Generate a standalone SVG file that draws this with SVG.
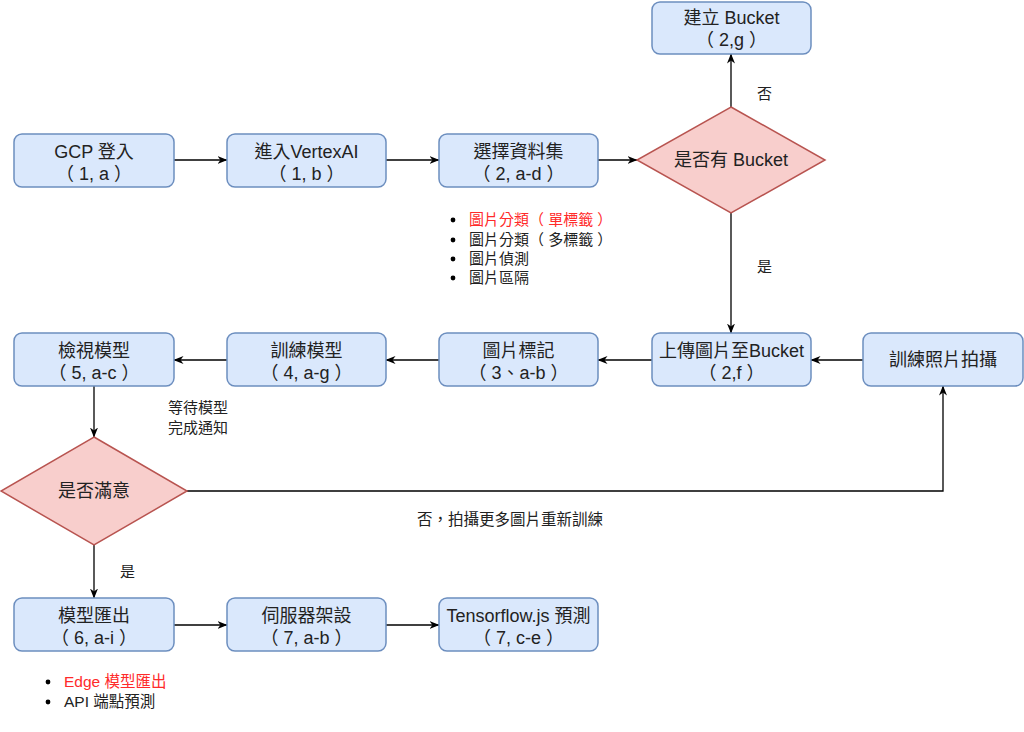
<svg xmlns="http://www.w3.org/2000/svg" width="1024" height="732" viewBox="0 0 1024 732">
<defs>
<marker id="arr" viewBox="0 0 10 8" refX="9.5" refY="4" markerWidth="10" markerHeight="8" markerUnits="userSpaceOnUse" orient="auto">
<path d="M0,0 L10,4 L0,8 L3,4 z" fill="#000"/>
</marker>
<style>
.box{fill:#dae8fc;stroke:#6c8ebf;stroke-width:1.5}
.dia{fill:#f8cecc;stroke:#b85450;stroke-width:1.5}
.t{font-family:"Liberation Sans","Noto Sans CJK TC",sans-serif;font-size:18px;fill:#222;text-anchor:middle}
.s{font-family:"Liberation Sans","Noto Sans CJK TC",sans-serif;font-size:15px;fill:#222}
.l{font-size:15.5px}
.red{fill:#ff2a2a}
.c{fill:none;stroke:#000;stroke-width:1.3;marker-end:url(#arr)}
</style>
</defs>
<rect width="1024" height="732" fill="#fff"/>
<g id="connectors">
<path class="c" d="M174,160 H227"/>
<path class="c" d="M386,160 H439"/>
<path class="c" d="M598,160 H637"/>
<path class="c" d="M731,107 V54"/>
<path class="c" d="M731,213 V333"/>
<path class="c" d="M863,360 H811"/>
<path class="c" d="M652,360 H598"/>
<path class="c" d="M439,360 H386"/>
<path class="c" d="M227,360 H174"/>
<path class="c" d="M94,386 V437"/>
<path class="c" d="M187,491 H943 V386"/>
<path class="c" d="M94,545 V598"/>
<path class="c" d="M174,625 H227"/>
<path class="c" d="M386,625 H439"/>
</g>
<g id="n-gcp"><rect class="box" x="14" y="134" width="160" height="53" rx="8"/><text class="t" x="94" y="158">GCP 登入</text><text class="t" x="94" y="180">（ 1, a ）</text></g>
<g id="n-vertex"><rect class="box" x="227" y="134" width="159" height="53" rx="8"/><text class="t" x="306.5" y="158">進入VertexAI</text><text class="t" x="306.5" y="180">（ 1, b ）</text></g>
<g id="n-dataset"><rect class="box" x="439" y="134" width="159" height="53" rx="8"/><text class="t" x="518.5" y="158">選擇資料集</text><text class="t" x="518.5" y="180">（ 2, a-d ）</text></g>
<g id="n-hasbucket"><polygon class="dia" points="731,107 825,160 731,213 637,160"/><text class="t" x="731" y="166">是否有 Bucket</text></g>
<g id="n-create"><rect class="box" x="652" y="2" width="159" height="52" rx="8"/><text class="t" x="731.5" y="24">建立 Bucket</text><text class="t" x="731.5" y="46">（ 2,g ）</text></g>
<g id="n-upload"><rect class="box" x="652" y="333" width="159" height="53" rx="8"/><text class="t" x="731.5" y="357">上傳圖片至Bucket</text><text class="t" x="731.5" y="379">（ 2,f ）</text></g>
<g id="n-photo"><rect class="box" x="863" y="333" width="160" height="53" rx="8"/><text class="t" x="943" y="366">訓練照片拍攝</text></g>
<g id="n-label"><rect class="box" x="439" y="333" width="159" height="53" rx="8"/><text class="t" x="518.5" y="357">圖片標記</text><text class="t" x="518.5" y="379">（ 3、a-b ）</text></g>
<g id="n-train"><rect class="box" x="227" y="333" width="159" height="53" rx="8"/><text class="t" x="306.5" y="357">訓練模型</text><text class="t" x="306.5" y="379">（ 4, a-g ）</text></g>
<g id="n-review"><rect class="box" x="14" y="333" width="160" height="53" rx="8"/><text class="t" x="94" y="357">檢視模型</text><text class="t" x="94" y="379">（ 5, a-c ）</text></g>
<g id="n-satisfied"><polygon class="dia" points="94,437 187,491 94,545 1,491"/><text class="t" x="94" y="497">是否滿意</text></g>
<g id="n-export"><rect class="box" x="14" y="598" width="160" height="53" rx="8"/><text class="t" x="94" y="622">模型匯出</text><text class="t" x="94" y="644">（ 6, a-i ）</text></g>
<g id="n-server"><rect class="box" x="227" y="598" width="159" height="53" rx="8"/><text class="t" x="306.5" y="622">伺服器架設</text><text class="t" x="306.5" y="644">（ 7, a-b ）</text></g>
<g id="n-tfjs"><rect class="box" x="439" y="598" width="159" height="53" rx="8"/><text class="t" x="518.5" y="622">Tensorflow.js 預測</text><text class="t" x="518.5" y="644">（ 7, c-e ）</text></g>
<g id="labels">
<text class="s" x="757" y="99">否</text>
<text class="s" x="757" y="272">是</text>
<text class="s" x="168" y="413" font-size="16">等待模型</text>
<text class="s" x="168" y="433" font-size="16">完成通知</text>
<text class="s" x="120" y="577">是</text>
<text class="s l" x="510" y="525" text-anchor="middle">否，拍攝更多圖片重新訓練</text>
</g>
<g id="list-datasets">
<circle cx="453" cy="220" r="2.4" fill="#000"/><text class="s red" x="469" y="225">圖片分類（ 單標籤 ）</text>
<circle cx="453" cy="240" r="2.4" fill="#000"/><text class="s" x="469" y="245">圖片分類（ 多標籤 ）</text>
<circle cx="453" cy="259" r="2.4" fill="#000"/><text class="s" x="469" y="264">圖片偵測</text>
<circle cx="453" cy="278" r="2.4" fill="#000"/><text class="s" x="469" y="283">圖片區隔</text>
</g>
<g id="list-export">
<circle cx="48" cy="682" r="2.4" fill="#000"/><text class="s l red" x="64" y="687">Edge 模型匯出</text>
<circle cx="48" cy="702" r="2.4" fill="#000"/><text class="s l" x="64" y="707">API 端點預測</text>
</g>
</svg>
